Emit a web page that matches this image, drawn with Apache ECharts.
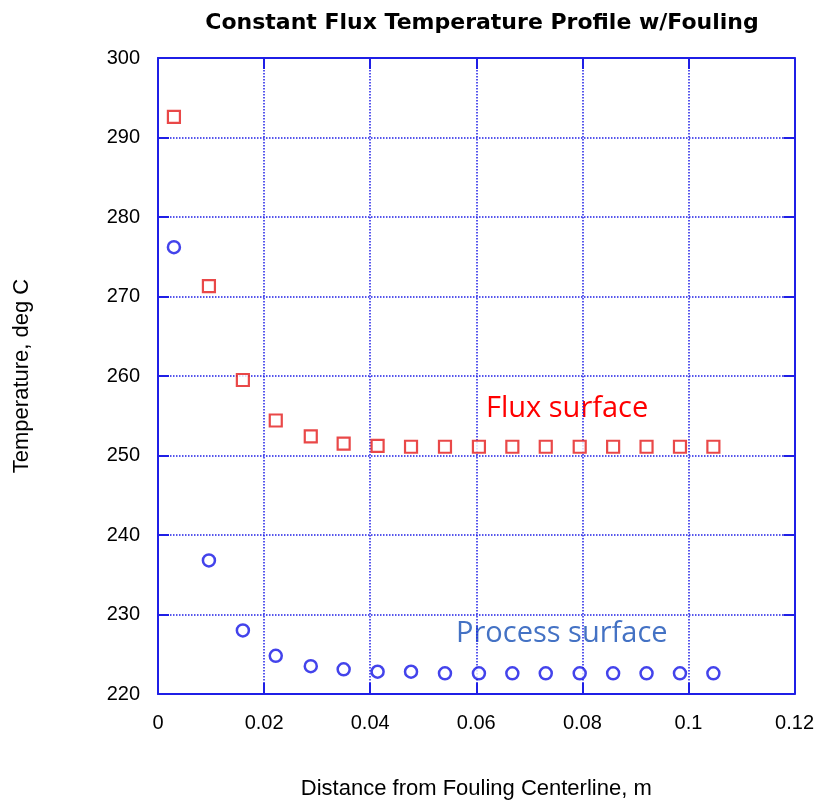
<!DOCTYPE html>
<html><head><meta charset="utf-8">
<script src="https://cdn.jsdelivr.net/npm/echarts@6/dist/echarts.min.js"></script>
<style>html,body{margin:0;padding:0;background:#fff}#c{width:817px;height:805px}</style>
</head><body><div id="c"></div>
<script>
const distances = [0.0030,0.0096,0.0160,0.0222,0.0288,0.0350,0.0414,0.0477,0.0541,0.0605,0.0668,0.0731,0.0795,0.0858,0.0921,0.0984,0.1047];
const fluxTemps = [292.6,271.3,259.5,254.4,252.4,251.5,251.2,251.1,251.1,251.1,251.1,251.1,251.1,251.1,251.1,251.1,251.1];
const processTemps = [276.2,236.8,228.0,224.8,223.5,223.1,222.8,222.8,222.6,222.6,222.6,222.6,222.6,222.6,222.6,222.6,222.6];
const xTicks = [0,0.02,0.04,0.06,0.08,0.1,0.12];
const yTicks = [220,230,240,250,260,270,280,290,300];

const blue = '#1f1fe6';
const lab = {color:'#000', fontFamily:'Liberation Sans, Arial', fontSize:20};
const nameStyle = {color:'#000', fontFamily:'Liberation Sans, Arial', fontSize:22};
const chart = echarts.init(document.getElementById('c'), null, {renderer:'canvas'});
const axisCommon = {
  axisLine:{show:true, onZero:false, lineStyle:{color:blue, width:2}},
  axisTick:{show:true, inside:true, length:11, lineStyle:{color:blue, width:2}},
};
chart.setOption({
  animation:false,
  title:{text:'Constant Flux Temperature Profile w/Fouling', left:477, top:7, textAlign:'center',
    textStyle:{fontFamily:'DejaVu Sans', fontWeight:'bold', fontSize:22, color:'#000'}},
  grid:{left:158, right:21, top:58, bottom:110},
  xAxis:[{type:'value', min:0, max:0.12, interval:0.02, position:'bottom',
    ...axisCommon,
    axisLabel:{...lab, margin:19, formatter:v=>{const t=xTicks.find(k=>Math.abs(k-v)<1e-9);return t===undefined?'':String(t);}},
    splitLine:{show:true, lineStyle:{color:blue, type:[1.5,1.5], width:1.5}},
    name:'Distance from Fouling Centerline, m', nameLocation:'middle', nameGap:84,
    nameTextStyle:{...nameStyle}},
   {type:'value', min:0, max:0.12, interval:0.02, position:'top', ...axisCommon, axisLabel:{show:false}, splitLine:{show:false}}],
  yAxis:[{type:'value', min:220, max:300, interval:10, position:'left',
    ...axisCommon,
    axisLabel:{...lab, margin:18, formatter:v=>yTicks.includes(v)?String(v):''},
    splitLine:{show:true, lineStyle:{color:blue, type:[1.5,1.5], width:1.5}},
    name:'Temperature, deg C', nameLocation:'middle', nameGap:125, nameRotate:90,
    nameTextStyle:{...nameStyle}},
   {type:'value', min:220, max:300, interval:10, position:'right', ...axisCommon, axisLabel:{show:false}, splitLine:{show:false}}],
  graphic:[
    {type:'text', left:486, top:394, style:{text:'Flux surface', fill:'#ff0000', font:'29px "Open Sans", "Noto Sans", sans-serif'}},
    {type:'text', left:456, top:619, style:{text:'Process surface', fill:'#4472c4', font:'29px "Open Sans", "Noto Sans", sans-serif'}}
  ],
  series:[
    {type:'scatter', name:'Flux surface', data:distances.map((d,i)=>[d,fluxTemps[i]]),
     symbol:'rect', symbolSize:12, itemStyle:{color:'#fff', borderColor:'#e31a1a', borderWidth:2.2}},
    {type:'scatter', name:'Process surface', data:distances.map((d,i)=>[d,processTemps[i]]),
     symbol:'circle', symbolSize:12, itemStyle:{color:'#fff', borderColor:'#1414e6', borderWidth:2.5}}
  ]
});
</script></body></html>
